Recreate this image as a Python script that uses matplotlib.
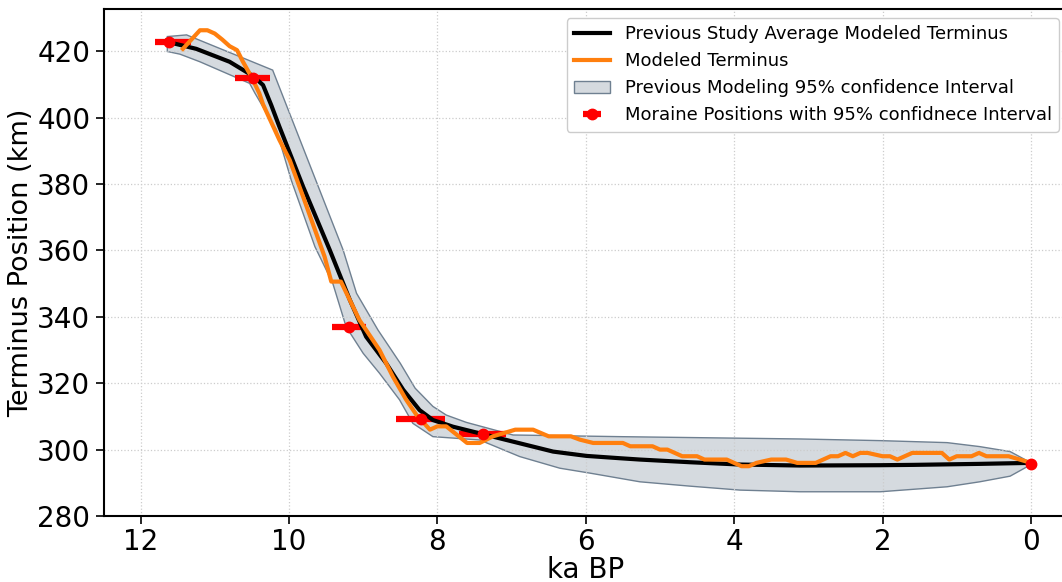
import matplotlib
matplotlib.use("Agg")
import matplotlib.pyplot as plt

# Previous study average modeled terminus (ka BP, km)
prev_age = [11.65, 11.62, 11.25, 10.80, 10.49, 10.35, 10.24, 10.13, 9.81, 9.45, 9.18,
            8.96, 8.69, 8.46, 8.24, 8.06, 7.79, 7.34, 6.89, 6.44, 5.99, 5.54, 5.27,
            4.60, 3.92, 3.11, 2.03, 1.58, 0.69, 0.0]
prev_pos = [423.0, 422.7, 420.7, 416.8, 412.6, 409.8, 403.8, 397.3, 379.2, 360.1, 345.1,
            334.0, 326.0, 318.0, 311.9, 308.9, 306.9, 304.4, 301.9, 299.4, 298.1, 297.4, 297.0,
            296.2, 295.5, 295.2, 295.3, 295.4, 295.7, 296.0]

# 95% confidence band of previous modeling
upper_age = [11.64, 11.38, 10.22, 9.27, 9.09, 8.80, 8.50, 8.30, 8.06, 7.88, 7.61, 6.98,
             5.54, 3.11, 2.03, 1.13, 0.69, 0.28, 0.03]
upper_pos = [424.4, 424.9, 414.3, 360.1, 347.1, 336.0, 326.0, 318.5, 313.0, 310.4, 308.2, 304.4,
             303.9, 303.2, 302.7, 302.1, 300.9, 299.4, 296.4]
lower_age = [11.64, 11.47, 11.20, 10.53, 10.46, 10.17, 9.97, 9.65, 9.41, 9.23, 9.00, 8.78,
             8.51, 8.33, 8.06, 7.43, 6.89, 6.35, 5.94, 5.27, 4.60, 3.92, 3.11, 2.03, 1.13,
             0.69, 0.28, 0.03]
lower_pos = [419.9, 419.1, 416.8, 410.3, 407.4, 396.3, 381.2, 361.1, 350.1, 337.0, 329.0, 323.0,
             315.0, 307.9, 303.9, 302.9, 297.9, 294.4, 292.9, 290.3, 289.0, 287.8, 287.3, 287.3, 288.8,
             290.3, 292.0, 295.1]

# Modeled terminus
model_age = [11.43, 11.2, 11.1, 11.0, 10.9, 10.8, 10.7, 10.62, 10.5, 10.4, 10.35, 10.13, 9.99,
             9.81, 9.52, 9.43, 9.3, 9.05, 8.78, 8.6, 8.42, 8.28, 8.1, 8.0, 7.88, 7.6, 7.43,
             7.25, 6.95, 6.71, 6.5, 6.2, 6.08, 5.9, 5.5, 5.4, 5.1, 5.0, 4.9, 4.7, 4.5, 4.4,
             4.1, 3.9, 3.8, 3.7, 3.5, 3.3, 3.15, 2.9, 2.7, 2.6, 2.5, 2.4, 2.3, 2.2, 2.0, 1.9,
             1.8, 1.6, 1.2, 1.1, 1.0, 0.8, 0.7, 0.6, 0.3, 0.15, 0.0]
model_pos = [420.7, 426.3, 426.3, 425.3, 423.5, 421.5, 420.3, 416.8, 412.0, 407.3, 404.0, 393.3, 387.2,
             376.2, 358.1, 350.6, 350.6, 339.0, 330.0, 322.0, 315.0, 310.4, 306.0, 307.0, 307.0, 302.0, 302.0,
             304.0, 306.0, 306.0, 304.0, 304.0, 303.0, 302.0, 302.0, 301.0, 301.0, 300.0, 300.0, 298.0, 298.0, 297.0,
             297.0, 295.0, 295.0, 296.0, 297.0, 297.0, 296.0, 296.0, 298.0, 298.0, 299.0, 298.0, 299.0, 299.0, 298.0, 298.0,
             297.0, 299.0, 299.0, 297.0, 298.0, 298.0, 299.0, 298.0, 298.0, 297.0, 296.0]

# Moraine positions with 95% CI on age
moraine_age = [11.62, 10.49, 9.19, 8.22, 7.39, 0.0]
moraine_pos = [422.8, 411.8, 337.0, 309.2, 304.7, 295.6]
moraine_err_lo = [0.30, 0.24, 0.23, 0.32, 0.32, 0.0]
moraine_err_hi = [0.19, 0.24, 0.23, 0.34, 0.32, 0.0]

xticks = [12, 10, 8, 6, 4, 2, 0]
yticks = [280, 300, 320, 340, 360, 380, 400, 420]

fig = plt.figure(figsize=(10.62, 5.82), dpi=100)
ax = fig.add_axes([103.5 / 1062, 1 - 516 / 582, (1068 - 103.5) / 1062, (516 - 9) / 582])

band_age = list(upper_age) + list(lower_age[::-1])
band_pos = list(upper_pos) + list(lower_pos[::-1])
ax.fill(band_age, band_pos, facecolor=(0.835, 0.855, 0.875), edgecolor='#6f8091',
        linewidth=1.0, zorder=1, label='Previous Modeling 95% confidence Interval')

ax.errorbar(moraine_age, moraine_pos, xerr=[moraine_err_lo, moraine_err_hi], fmt='o',
            color='red', ecolor='red', elinewidth=4.5, markersize=7.5, capsize=0,
            zorder=2, label='Moraine Positions with 95% confidnece Interval')
ax.plot(prev_age, prev_pos, color='black', linewidth=3, zorder=2.03,
        label='Previous Study Average Modeled Terminus')
ax.plot(model_age, model_pos, color='#ff7f0e', linewidth=3, zorder=2.06,
        label='Modeled Terminus')

ax.set_xlim(12.5, -0.5)
ax.set_ylim(280, 432.7)
ax.set_xticks(xticks)
ax.set_xticklabels([str(t) for t in xticks])
ax.set_yticks(yticks)
ax.tick_params(axis='both', labelsize=20, length=6, width=1.2)
ax.tick_params(axis='x', pad=2.5)
ax.set_xlabel('ka BP', fontsize=20, labelpad=0)
ax.set_ylabel('Terminus Position (km)', fontsize=19.5, labelpad=2)
ax.grid(True, linestyle=':', color='0.8', linewidth=0.9)
for s in ax.spines.values():
    s.set_linewidth(1.5)

h, l = ax.get_legend_handles_labels()
order = [l.index('Previous Study Average Modeled Terminus'), l.index('Modeled Terminus'),
         l.index('Previous Modeling 95% confidence Interval'),
         l.index('Moraine Positions with 95% confidnece Interval')]
ax.legend([h[i] for i in order], [l[i] for i in order], loc='upper right', fontsize=13,
          framealpha=1.0, borderaxespad=0.5)

fig.savefig('out.png', dpi=100)
